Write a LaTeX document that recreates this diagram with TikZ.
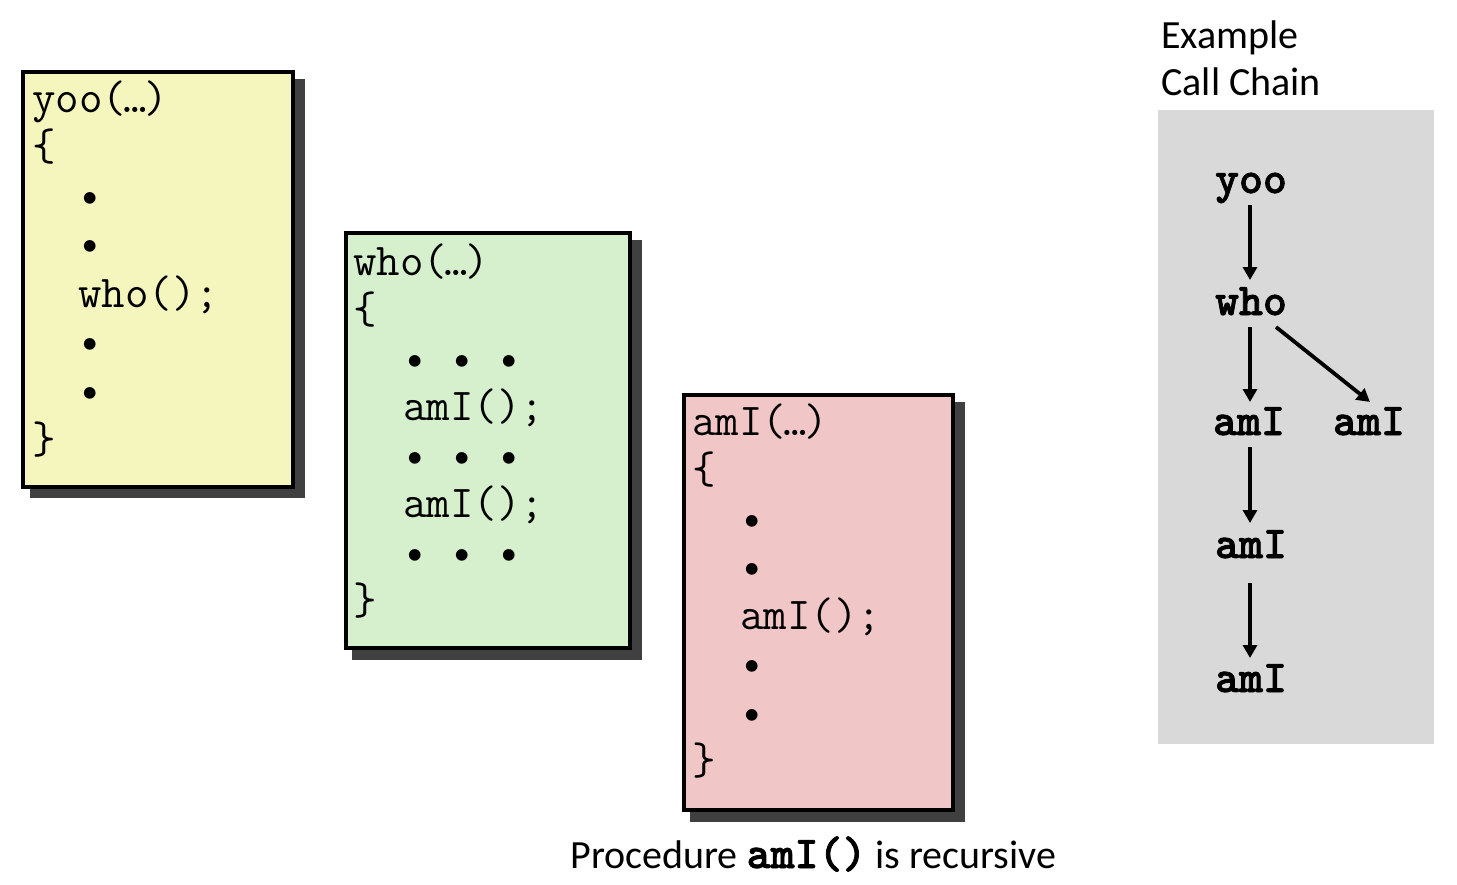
\documentclass[tikz,border=0pt]{standalone}
\usepackage{fontspec}
\newfontfamily\carl{Carlito}
\newfontfamily\cboldfam{lmmonolt10-bold.otf}[FakeBold=1.6]
\usetikzlibrary{arrows.meta,calc}
\definecolor{yfill}{RGB}{245,245,190}
\definecolor{gfill}{RGB}{214,240,206}
\definecolor{pfill}{RGB}{240,198,198}
\definecolor{panelgray}{RGB}{217,217,217}
\definecolor{shade}{RGB}{64,64,64}
\newcommand\cmono{\ttfamily\fontsize{22.8}{27}\selectfont}
\newcommand\bmono{\cboldfam\fontsize{22.8}{27}\selectfont}
\newcommand\carltext{\carl\fontsize{20}{24}\selectfont}
\newcommand\myell{\makebox[9pt]{…}}
\newcommand\bul{\textbullet}
\begin{document}
\begin{tikzpicture}[x=0.5pt,y=-0.5pt,
 code/.style={anchor=base west,inner sep=0pt,font=\cmono},
 chain/.style={anchor=base,inner sep=0pt,font=\bmono},
 lbl/.style={anchor=base west,inner sep=0pt,font=\carltext},
 codebox/.style={draw=black,line width=2pt},
 shadowbox/.style={fill=shade},
 arr/.style={line width=1.9pt,-{Triangle[length=6.5pt,width=7pt]}}]
\useasboundingbox (0,0) rectangle (1457,884);
% shadows and boxes
\fill[shadowbox] (30,79) rectangle (305,498);
\filldraw[codebox,fill=yfill] (23,72) rectangle (293,487);
\fill[shadowbox] (352,240) rectangle (642,660);
\filldraw[codebox,fill=gfill] (346,233) rectangle (630,648);
\fill[shadowbox] (690,402) rectangle (965,822);
\filldraw[codebox,fill=pfill] (684,395) rectangle (953,810);
\fill[panelgray] (1158,110) rectangle (1434,744);
% yoo
\node[code] (y0) at (32,112) {yoo(\myell)};
\node[code] (y1) at (32,160.5) {\{};
\node[code] (y2) at (78,209) {\bul};
\node[code] (y3) at (78,257.5) {\bul};
\node[code] (y4) at (78,307) {who();};
\node[code] (y5) at (78,355.5) {\bul};
\node[code] (y6) at (78,404) {\bul};
\node[code] (y7) at (32,453) {\}};
% who
\node[code] (w0) at (353,275) {who(\myell)};
\node[code] (w1) at (353,323.5) {\{};
\node[code] (w2) at (403,372) {\bul\ \bul\ \bul};
\node[code] (w3) at (403,420.5) {amI();};
\node[code] (w4) at (403,469) {\bul\ \bul\ \bul};
\node[code] (w5) at (403,517.5) {amI();};
\node[code] (w6) at (403,566) {\bul\ \bul\ \bul};
\node[code] (w7) at (353,614.5) {\}};
% amI
\node[code] (a0) at (692,435) {amI(\myell)};
\node[code] (a1) at (692,483.5) {\{};
\node[code] (a2) at (740,532) {\bul};
\node[code] (a3) at (740,580.5) {\bul};
\node[code] (a4) at (740,629) {amI();};
\node[code] (a5) at (740,677.5) {\bul};
\node[code] (a6) at (740,726) {\bul};
\node[code] (a7) at (692,774.5) {\}};
% call chain
\node[lbl] (ex1) at (1161,48) {Example};
\node[lbl] (ex2) at (1161,95) {Call Chain};
\node[chain] (cyoo) at (1251,193) {yoo};
\node[chain] (cwho) at (1251,315) {who};
\node[chain] (cam1) at (1249,435) {amI};
\node[chain] (cam2) at (1369,435) {amI};
\node[chain] (cam3) at (1251,558) {amI};
\node[chain] (cam4) at (1251,692) {amI};
\draw[arr] ($(cyoo.base)+(-1,12)$) -- ($(cwho.base)+(-1,-35)$);
\draw[arr] ($(cwho.base)+(-1,12)$) -- ($(cam1.base)+(1,-33)$);
\draw[arr] ($(cwho.base)+(25,12)$) -- ($(cam2.base)+(1,-33)$);
\draw[arr] ($(cam1.base)+(1,12)$) -- ($(cam3.base)+(-1,-35)$);
\draw[arr] ($(cam3.base)+(-1,25)$) -- ($(cam4.base)+(-1,-34)$);
% caption
\node[lbl] (cap) at (570,868) {Procedure {\bmono amI()} is recursive};
\end{tikzpicture}
\end{document}
